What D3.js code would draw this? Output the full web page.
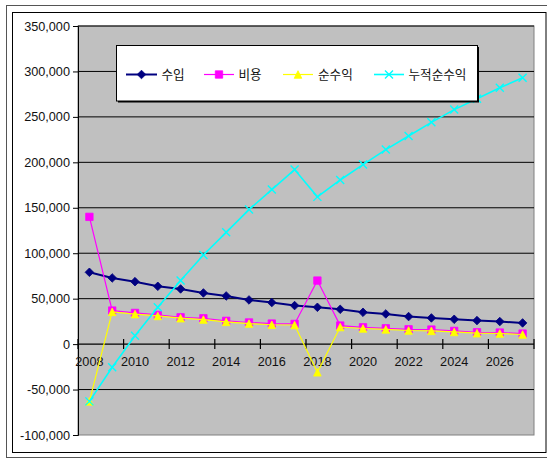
<!DOCTYPE html>
<html>
<head>
<meta charset="utf-8">
<script src="https://cdn.jsdelivr.net/npm/d3@7"></script>
<style>
  html, body { margin: 0; padding: 0; background: #fff; }
  svg { display: block; }
</style>
</head>
<body>
<svg id="chart" width="547" height="459"></svg>
<script>
// Years on the category axis
const years = [2008, 2009, 2010, 2011, 2012, 2013, 2014, 2015, 2016, 2017,
               2018, 2019, 2020, 2021, 2022, 2023, 2024, 2025, 2026, 2027];

// 수입 (income)
const income = [79000, 72800, 68700, 63600, 60700, 56300, 53000, 48600, 45700, 42400,
                40500, 38300, 35000, 33200, 30300, 28800, 27300, 25900, 24800, 23300];
// 비용 (cost)
const cost = [140000, 36900, 34300, 32100, 29500, 28400, 25600, 23800, 22600, 22200,
              69900, 20400, 18500, 17400, 16300, 16000, 14500, 13000, 12700, 11600];
// 순수익 (net profit)
const net = [-63000, 35500, 33000, 31000, 28500, 27000, 24500, 22600, 21300, 21000,
             -31000, 18800, 17200, 16200, 15000, 14600, 13400, 12000, 11700, 10600];
// 누적순수익 (cumulative net profit)
const cumulative = [-63000, -25500, 9300, 40500, 69900, 98100, 123000, 148000, 170000, 192000,
                    162000, 180600, 197500, 214000, 229000, 244000, 258000, 270000, 282000, 293000];

const seriesNames = ["수입", "비용", "순수익", "누적순수익"];
const yTicks = [-100000, -50000, 0, 50000, 100000, 150000, 200000, 250000, 300000, 350000];
const xLabelYears = [2008, 2010, 2012, 2014, 2016, 2018, 2020, 2022, 2024, 2026];

const svg = d3.select("#chart");

// Chart frames
svg.append("rect").attr("x", 6.5).attr("y", 5.5).attr("width", 550).attr("height", 452)
  .attr("fill", "#fff").attr("stroke", "#555").attr("stroke-width", 1);
svg.append("rect").attr("x", 12.5).attr("y", 12.5).attr("width", 533.5).attr("height", 440)
  .attr("fill", "#fff").attr("stroke", "#000").attr("stroke-width", 1);

const plot = { left: 78, right: 534, top: 26, bottom: 435 };

const x = d3.scaleBand().domain(years).range([plot.left, plot.right]).padding(0);
const cx = d => x(d) + x.bandwidth() / 2;
const y = d3.scaleLinear().domain([-100000, 350000]).range([plot.bottom, plot.top]);

// Plot background
svg.append("rect")
  .attr("x", plot.left).attr("y", plot.top)
  .attr("width", plot.right - plot.left).attr("height", plot.bottom - plot.top)
  .attr("fill", "#c0c0c0").attr("stroke", "#808080").attr("stroke-width", 1);

// Horizontal gridlines
svg.append("g").selectAll("line")
  .data(yTicks.filter(v => v !== 0 && v !== -100000))
  .join("line")
  .attr("x1", plot.left).attr("x2", plot.right)
  .attr("y1", d => y(d)).attr("y2", d => y(d))
  .attr("stroke", "#000").attr("stroke-width", 1);

// Value axis
const yAxis = svg.append("g")
  .attr("transform", `translate(${plot.left},0)`)
  .call(d3.axisLeft(y).tickValues(yTicks).tickSize(5).tickPadding(3)
    .tickFormat(d => d3.format(",")(d).replace("−", "-")));
yAxis.select(".domain").attr("stroke", "#000");
yAxis.selectAll(".tick line").attr("stroke", "#000");
yAxis.selectAll("text")
  .attr("font-family", "'Liberation Sans', Arial, sans-serif")
  .attr("font-size", "12.7px").attr("fill", "#111");

// Category axis crossing at zero
const y0 = y(0);
svg.append("line")
  .attr("x1", plot.left).attr("x2", plot.right)
  .attr("y1", y0).attr("y2", y0)
  .attr("stroke", "#000").attr("stroke-width", 1.3);

// Tick marks at category boundaries, every second category
const tickPos = years.filter((d, i) => i % 2 === 0).map(d => x(d)).concat([plot.right]);
svg.append("g").selectAll("line")
  .data(tickPos)
  .join("line")
  .attr("x1", d => d).attr("x2", d => d)
  .attr("y1", y0 - 5).attr("y2", y0 + 5)
  .attr("stroke", "#000").attr("stroke-width", 1.2);

const xAxis = svg.append("g")
  .attr("transform", `translate(0,${y0})`)
  .call(d3.axisBottom(x).tickValues(xLabelYears).tickSize(0).tickPadding(13));
xAxis.select(".domain").remove();
xAxis.selectAll("text")
  .attr("font-family", "'Liberation Sans', Arial, sans-serif")
  .attr("font-size", "12.7px").attr("fill", "#111");

// Marker shapes
const markerPath = {
  diamond: r => `M0,${-r}L${r},0L0,${r}L${-r},0Z`,
  square: r => `M${-r},${-r}H${r}V${r}H${-r}Z`,
  triangle: r => `M0,${-r}L${r},${r}H${-r}Z`,
  cross: r => `M${-r},${-r}L${r},${r}M${r},${-r}L${-r},${r}`
};

const series = [
  { name: seriesNames[0], values: income, color: "#000080", width: 2, marker: "diamond", r: 4.3 },
  { name: seriesNames[1], values: cost, color: "#ff00ff", width: 1.2, marker: "square", r: 3.7 },
  { name: seriesNames[2], values: net, color: "#ffff00", width: 1.2, marker: "triangle", r: 3.8 },
  { name: seriesNames[3], values: cumulative, color: "#00ffff", width: 1.6, marker: "cross", r: 4 }
];

const line = d3.line().x(d => cx(d.year)).y(d => y(d.value));

function drawMarker(g, s, px, py) {
  const p = g.append("path")
    .attr("transform", `translate(${px},${py})`)
    .attr("d", markerPath[s.marker](s.r));
  if (s.marker === "cross") {
    p.attr("fill", "none").attr("stroke", s.color).attr("stroke-width", 1.4);
  } else {
    p.attr("fill", s.color).attr("stroke", s.color).attr("stroke-width", 0.8);
  }
}

series.forEach(s => {
  const pts = years.map((yr, i) => ({ year: yr, value: s.values[i] }));
  const g = svg.append("g");
  g.append("path")
    .attr("d", line(pts))
    .attr("fill", "none")
    .attr("stroke", s.color)
    .attr("stroke-width", s.width);
  pts.forEach(p => drawMarker(g, s, cx(p.year), y(p.value)));
});

// Legend
const legend = svg.append("g");
legend.append("rect").attr("x", 118).attr("y", 47).attr("width", 361).attr("height", 55.5)
  .attr("fill", "#000");
legend.append("rect").attr("x", 116.5).attr("y", 45.5).attr("width", 361).attr("height", 55.5)
  .attr("fill", "#fff").attr("stroke", "#000").attr("stroke-width", 1);

const legendItems = [
  { x1: 126, x2: 157, tx: 161.5 },
  { x1: 204, x2: 234, tx: 238.5 },
  { x1: 283, x2: 313, tx: 318 },
  { x1: 374, x2: 404, tx: 408.5 }
];
const ly = 74.5;
series.forEach((s, i) => {
  const it = legendItems[i];
  legend.append("line")
    .attr("x1", it.x1).attr("x2", it.x2).attr("y1", ly).attr("y2", ly)
    .attr("stroke", s.color).attr("stroke-width", s.width);
  drawMarker(legend, s, (it.x1 + it.x2) / 2, ly);
  legend.append("text")
    .attr("x", it.tx).attr("y", ly + 4.5)
    .attr("font-family", "'Noto Sans CJK KR', sans-serif")
    .attr("font-size", "12.6px").attr("fill", "#111")
    .text(s.name);
});
</script>
</body>
</html>
